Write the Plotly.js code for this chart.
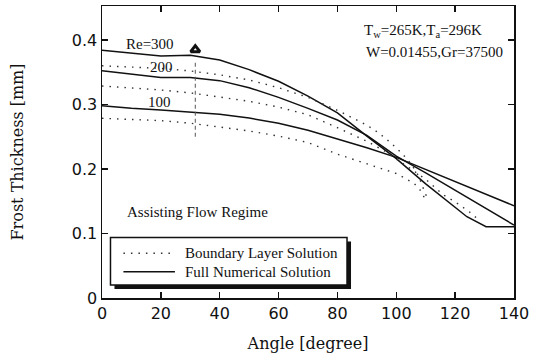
<!DOCTYPE html>
<html>
<head>
<meta charset="utf-8">
<script src="https://cdn.plot.ly/plotly-3.0.1.min.js"></script>
<style>html,body{margin:0;padding:0;background:#fff;}#chart{width:535px;height:358px;}</style>
</head>
<body>
<div id="chart"></div>
<script>
// Full numerical solution
const full300X = [0,10,20,30,40,50,60,70,80,90,100,110,120,124,130.5,140];
const full300Y = [0.384,0.379,0.375,0.3765,0.369,0.354,0.336,0.313,0.287,0.251,0.216,0.177,0.140,0.126,0.1105,0.1105];
const full200X = [0,10,20,30,40,50,60,70,80,90,100,110,120,130,140];
const full200Y = [0.3525,0.347,0.342,0.342,0.337,0.326,0.311,0.294,0.276,0.252,0.220,0.194,0.167,0.140,0.113];
const full100X = [0,10,20,30,40,50,60,70,80,90,100,110,120,130,140];
const full100Y = [0.298,0.294,0.2915,0.288,0.285,0.279,0.271,0.260,0.247,0.233,0.218,0.199,0.180,0.162,0.143];
// Boundary layer solution
const bl300X = [0,10,20,30,40,50,60,70,80,90,94,98,102,105,107.5,109,110.5];
const bl300Y = [0.360,0.358,0.356,0.352,0.346,0.338,0.326,0.311,0.291,0.268,0.256,0.241,0.224,0.208,0.190,0.172,0.155];
const bl200X = [0,10,20,30,40,50,60,70,80,90,96,100,105,110,116,120,125,128];
const bl200Y = [0.3287,0.326,0.3225,0.318,0.312,0.305,0.296,0.284,0.264,0.243,0.228,0.216,0.200,0.184,0.160,0.149,0.133,0.121];
const bl100X = [0,10,20,30,40,50,60,70,80,90,95,100,106,108,110];
const bl100Y = [0.2786,0.277,0.275,0.271,0.265,0.259,0.251,0.241,0.223,0.208,0.200,0.193,0.178,0.168,0.152];
// marker / labels
const arrowX = [31.7];
const arrowY = [0.385];
const guideX = 31.7;
const guideY = [0.25, 0.367];
const reLabels = ["Re=300", "200", "100"];
const reLabelX = [16.4, 20.1, 19.5];
const reLabelY = [0.394, 0.3586, 0.3043];
const xTicks = [0,20,40,60,80,100,120,140];
const yTicks = [0,0.1,0.2,0.3,0.4];
const legendLabels = ["Boundary Layer Solution", "Full Numerical Solution"];

const serif = "Liberation Serif, Times New Roman, serif";
const solid = {color:"#111", width:1.5};
const dotted = {color:"#333", width:1.4, dash:"1.5px,6px"};

const traces = [
  {x:full300X, y:full300Y, mode:"lines", line:solid, showlegend:false},
  {x:full200X, y:full200Y, mode:"lines", line:solid, showlegend:false},
  {x:full100X, y:full100Y, mode:"lines", line:solid, showlegend:false},
  {x:bl300X, y:bl300Y, mode:"lines", line:dotted, showlegend:false},
  {x:bl200X, y:bl200Y, mode:"lines", line:dotted, showlegend:false},
  {x:bl100X, y:bl100Y, mode:"lines", line:dotted, showlegend:false},
  {x:arrowX, y:arrowY, mode:"markers", showlegend:false,
   marker:{symbol:"triangle-up-open", size:8, color:"#111", line:{color:"#111", width:3}}}
];

const annotations = reLabels.map((t,i)=>({
  x:reLabelX[i], y:reLabelY[i], xref:"x", yref:"y", text:t, showarrow:false,
  font:{family:serif, size:15, color:"#111"}
}));
annotations.push(
  {xref:"paper", yref:"paper", x:0.630, y:0.915, xanchor:"left", yanchor:"middle", showarrow:false,
   text:"T<sub>w</sub>=265K,T<sub>a</sub>=296K", font:{family:serif, size:15, color:"#111"}},
  {xref:"paper", yref:"paper", x:0.636, y:0.8435, xanchor:"left", yanchor:"middle", showarrow:false,
   text:"W=0.01455,Gr=37500", font:{family:serif, size:15, color:"#111"}},
  {xref:"paper", yref:"paper", x:0.057, y:0.2955, xanchor:"left", yanchor:"middle", showarrow:false,
   text:"Assisting Flow Regime", font:{family:serif, size:15, color:"#111"}},
  {xref:"paper", yref:"paper", x:0.197, y:0.153, xanchor:"left", yanchor:"middle", showarrow:false,
   text:legendLabels[0], font:{family:serif, size:15, color:"#111"}},
  {xref:"paper", yref:"paper", x:0.197, y:0.090, xanchor:"left", yanchor:"middle", showarrow:false,
   text:legendLabels[1], font:{family:serif, size:15, color:"#111"}}
);

const shapes = [
  {type:"line", xref:"x", yref:"y", x0:guideX, x1:guideX, y0:guideY[0], y1:guideY[1],
   line:{color:"#555", width:1, dash:"4px,3px"}},
  // legend shadow and box
  {type:"rect", xref:"paper", yref:"paper", x0:0.0303, x1:0.6044, y0:0.0308, y1:0.1935,
   fillcolor:"#111", line:{width:0}},
  {type:"rect", xref:"paper", yref:"paper", x0:0.0206, x1:0.5947, y0:0.0445, y1:0.2072,
   fillcolor:"#fff", line:{color:"#111", width:1.5}},
  {type:"line", xref:"paper", yref:"paper", x0:0.052, x1:0.177, y0:0.153, y1:0.153, line:dotted},
  {type:"line", xref:"paper", yref:"paper", x0:0.052, x1:0.177, y0:0.090, y1:0.090, line:solid}
];

const axisCommon = {
  showline:true, linecolor:"#111", linewidth:1.5, mirror:"ticks",
  ticks:"inside", ticklen:6, tickwidth:1.5, tickcolor:"#111",
  showgrid:false, zeroline:false,
  tickfont:{family:"DejaVu Sans, sans-serif", size:16, color:"#111"}
};

const layout = {
  width:535, height:358,
  margin:{l:102, r:21, t:6, b:60},
  paper_bgcolor:"#fff", plot_bgcolor:"#fff",
  showlegend:false,
  xaxis:Object.assign({}, axisCommon, {
    range:[0,140], tickvals:xTicks, ticktext:xTicks.map(String),
    title:{text:"Angle [degree]", font:{family:"DejaVu Serif, serif", size:16, color:"#111"}, standoff:16}
  }),
  yaxis:Object.assign({}, axisCommon, {
    range:[0,0.4527], tickvals:yTicks, ticktext:yTicks.map(String),
    title:{text:"Frost Thickness [mm]", font:{family:"DejaVu Serif, serif", size:16, color:"#111"}, standoff:44}
  }),
  annotations:annotations,
  shapes:shapes
};

Plotly.newPlot("chart", traces, layout, {staticPlot:true, displayModeBar:false});
</script>
</body>
</html>
